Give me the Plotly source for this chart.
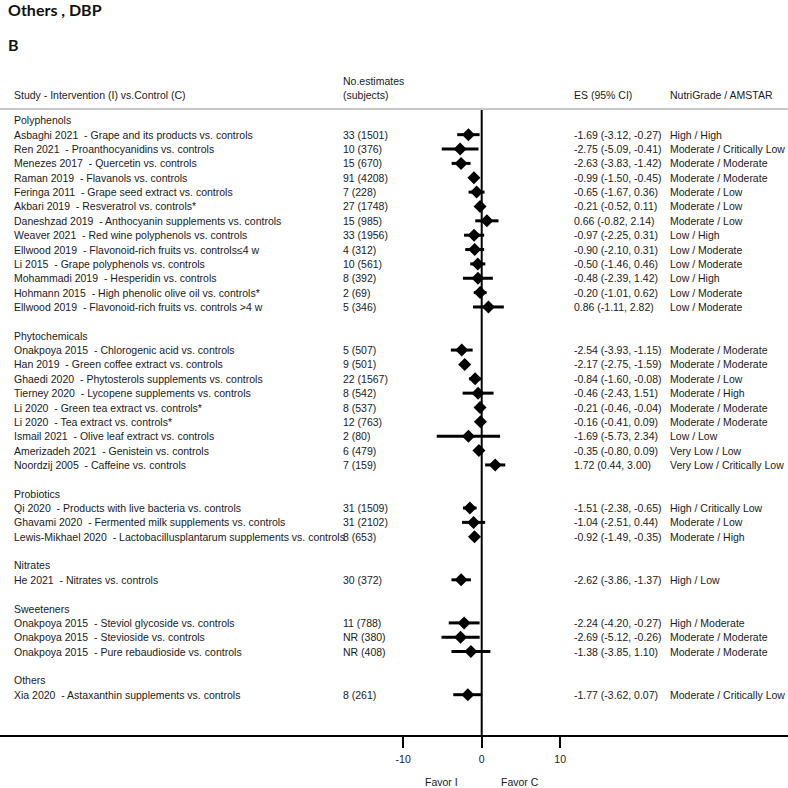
import plotly.graph_objects as go

W, H = 788, 788

groups = ["Polyphenols", "Phytochemicals", "Probiotics", "Nitrates", "Sweeteners", "Others"]
group_sizes = [13, 9, 3, 1, 3, 1]

studies = [
    "Asbaghi 2021  - Grape and its products vs. controls",
    "Ren 2021  - Proanthocyanidins vs. controls",
    "Menezes 2017  - Quercetin vs. controls",
    "Raman 2019  - Flavanols vs. controls",
    "Feringa 2011  - Grape seed extract vs. controls",
    "Akbari 2019  - Resveratrol vs. controls*",
    "Daneshzad 2019  - Anthocyanin supplements vs. controls",
    "Weaver 2021  - Red wine polyphenols vs. controls",
    "Ellwood 2019  - Flavonoid-rich fruits vs. controls≤4 w",
    "Li 2015  - Grape polyphenols vs. controls",
    "Mohammadi 2019  - Hesperidin vs. controls",
    "Hohmann 2015  - High phenolic olive oil vs. controls*",
    "Ellwood 2019  - Flavonoid-rich fruits vs. controls >4 w",
    "Onakpoya 2015  - Chlorogenic acid vs. controls",
    "Han 2019  - Green coffee extract vs. controls",
    "Ghaedi 2020  - Phytosterols supplements vs. controls",
    "Tierney 2020  - Lycopene supplements vs. controls",
    "Li 2020  - Green tea extract vs. controls*",
    "Li 2020  - Tea extract vs. controls*",
    "Ismail 2021  - Olive leaf extract vs. controls",
    "Amerizadeh 2021  - Genistein vs. controls",
    "Noordzij 2005  - Caffeine vs. controls",
    "Qi 2020  - Products with live bacteria vs. controls",
    "Ghavami 2020  - Fermented milk supplements vs. controls",
    "Lewis-Mikhael 2020  - Lactobacillusplantarum supplements vs. controls",
    "He 2021  - Nitrates vs. controls",
    "Onakpoya 2015  - Steviol glycoside vs. controls",
    "Onakpoya 2015  - Stevioside vs. controls",
    "Onakpoya 2015  - Pure rebaudioside vs. controls",
    "Xia 2020  - Astaxanthin supplements vs. controls",
]

n_estimates = [
    "33 (1501)", "10 (376)", "15 (670)", "91 (4208)", "7 (228)", "27 (1748)", "15 (985)",
    "33 (1956)", "4 (312)", "10 (561)", "8 (392)", "2 (69)", "5 (346)",
    "5 (507)", "9 (501)", "22 (1567)", "8 (542)", "8 (537)", "12 (763)", "2 (80)", "6 (479)", "7 (159)",
    "31 (1509)", "31 (2102)", "8 (653)",
    "30 (372)",
    "11 (788)", "NR (380)", "NR (408)",
    "8 (261)",
]

es = [-1.69, -2.75, -2.63, -0.99, -0.65, -0.21, 0.66, -0.97, -0.90, -0.50, -0.48, -0.20, 0.86,
      -2.54, -2.17, -0.84, -0.46, -0.21, -0.16, -1.69, -0.35, 1.72,
      -1.51, -1.04, -0.92,
      -2.62,
      -2.24, -2.69, -1.38,
      -1.77]
ci_low = [-3.12, -5.09, -3.83, -1.50, -1.67, -0.52, -0.82, -2.25, -2.10, -1.46, -2.39, -1.01, -1.11,
          -3.93, -2.75, -1.60, -2.43, -0.46, -0.41, -5.73, -0.80, 0.44,
          -2.38, -2.51, -1.49,
          -3.86,
          -4.20, -5.12, -3.85,
          -3.62]
ci_high = [-0.27, -0.41, -1.42, -0.45, 0.36, 0.11, 2.14, 0.31, 0.31, 0.46, 1.42, 0.62, 2.82,
           -1.15, -1.59, -0.08, 1.51, -0.04, 0.09, 2.34, 0.09, 3.00,
           -0.65, 0.44, -0.35,
           -1.37,
           -0.27, -0.26, 1.10,
           0.07]

grades = [
    "High / High", "Moderate / Critically Low", "Moderate / Moderate", "Moderate / Moderate",
    "Moderate / Low", "Moderate / Low", "Moderate / Low", "Low / High", "Low / Moderate",
    "Low / Moderate", "Low / High", "Low / Moderate", "Low / Moderate",
    "Moderate / Moderate", "Moderate / Moderate", "Moderate / Low", "Moderate / High",
    "Moderate / Moderate", "Moderate / Moderate", "Low / Low", "Very Low / Low",
    "Very Low / Critically Low",
    "High / Critically Low", "Moderate / Low", "Moderate / High",
    "High / Low",
    "High / Moderate", "Moderate / Moderate", "Moderate / Moderate",
    "Moderate / Critically Low",
]

tick_vals = [-10, 0, 10]
tick_text = ["-10", "0", "10"]

# ---- layout geometry (pixels) ----
ROW0_PX = 120.3      # pixel y of first group header row
ROW_PX = 14.36       # row spacing
ZERO_PX = 481.7      # pixel x of 0
PX_PER_UNIT = 7.85
AXIS_PX = 736
TOP_LINE_PX = 109

FONT = "Liberation Sans, Arial, sans-serif"
FS = 10.5
TXT = "#1a1a1a"

# assign rows
header_rows, item_rows = [], []
r = 0
for g, n in zip(groups, group_sizes):
    header_rows.append(r)
    for k in range(n):
        item_rows.append(r + 1 + k)
    r += n + 2

x_range = [-ZERO_PX / PX_PER_UNIT, (W - ZERO_PX) / PX_PER_UNIT]
y_range = [(H - ROW0_PX) / ROW_PX, -ROW0_PX / ROW_PX]

fig = go.Figure()
fig.add_trace(go.Scatter(
    x=es, y=item_rows, mode="markers",
    marker=dict(symbol="diamond", size=10, color="black"),
    error_x=dict(type="data", symmetric=False,
                 array=[h - e for h, e in zip(ci_high, es)],
                 arrayminus=[e - l for e, l in zip(es, ci_low)],
                 thickness=3, width=0, color="black"),
    hoverinfo="skip", showlegend=False,
))

ann = []
def px(x):
    return x / W

def py(p):
    return 1 - p / H

def text(x, y, s, yref="y", size=FS, **kw):
    ann.append(dict(x=x, y=y, xref="paper", yref=yref, text=s, showarrow=False,
                    xanchor=kw.get("xanchor", "left"), yanchor="middle",
                    font=dict(family=kw.get("family", FONT), size=size, color=kw.get("color", TXT))))

for g, hr in zip(groups, header_rows):
    text(px(12), hr, g)
for i, rr in enumerate(item_rows):
    text(px(12), rr, studies[i])
    text(px(341), rr, n_estimates[i])
    text(px(572), rr, f"{es[i]:.2f} ({ci_low[i]:.2f}, {ci_high[i]:.2f})")
    text(px(668), rr, grades[i])

text(px(12), py(95), "Study - Intervention (I) vs.Control (C)", yref="paper")
text(px(341), py(81), "No.estimates", yref="paper")
text(px(341), py(95), "(subjects)", yref="paper")
text(px(572), py(95), "ES (95% CI)", yref="paper")
text(px(668), py(95), "NutriGrade / AMSTAR", yref="paper")
text(px(6), py(10), "<b>Others , DBP</b>", yref="paper", size=16, family="Lato, sans-serif", color="#111")
text(px(6), py(44), "<b>B</b>", yref="paper", size=16, family="Lato, sans-serif", color="#111")
text(px(442), py(782), "Favor I", yref="paper", xanchor="center")
text(px(520), py(782), "Favor C", yref="paper", xanchor="center")

shapes = [
    dict(type="line", xref="paper", yref="paper", x0=0, x1=1, y0=py(TOP_LINE_PX), y1=py(TOP_LINE_PX),
         line=dict(color="#c8c8c8", width=2)),
    dict(type="line", xref="x", yref="paper", x0=0, x1=0, y0=py(TOP_LINE_PX + 1), y1=py(AXIS_PX),
         line=dict(color="black", width=2)),
]

fig.update_layout(
    width=W, height=H, margin=dict(l=0, r=0, t=0, b=0),
    paper_bgcolor="white", plot_bgcolor="white",
    annotations=ann, shapes=shapes,
    xaxis=dict(range=x_range, domain=[0, 1], anchor="free", position=py(AXIS_PX),
               showline=True, linewidth=2, linecolor="black",
               ticks="outside", ticklen=11, tickwidth=2, tickcolor="black",
               tickvals=tick_vals, ticktext=tick_text, showgrid=False, zeroline=False,
               ticklabelstandoff=2,
               tickfont=dict(family=FONT, size=FS, color=TXT), fixedrange=True),
    yaxis=dict(range=y_range, visible=False, showgrid=False, zeroline=False, fixedrange=True),
    showlegend=False,
)

fig.write_html(
    "out.html",
    config={"displayModeBar": False},
    post_script="document.body.style.margin='0';document.body.style.overflow='hidden';",
)
